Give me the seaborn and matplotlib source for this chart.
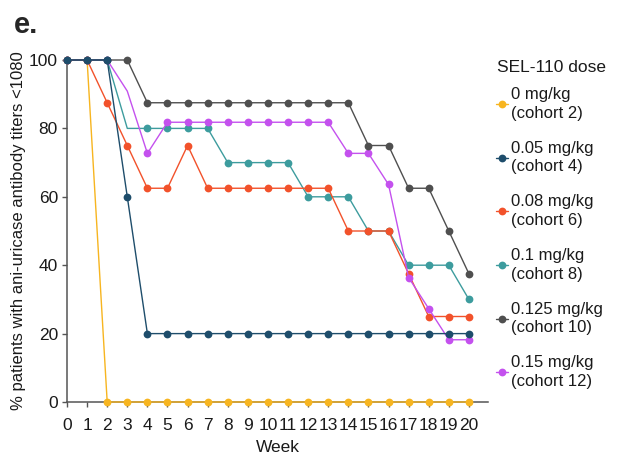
import numpy as np
import pandas as pd
import matplotlib
matplotlib.use("Agg")
import matplotlib.pyplot as plt
import seaborn as sns

weeks = list(range(0, 21))

dose_labels = ["0 mg/kg\n(cohort 2)", "0.05 mg/kg\n(cohort 4)", "0.08 mg/kg\n(cohort 6)",
               "0.1 mg/kg\n(cohort 8)", "0.125 mg/kg\n(cohort 10)", "0.15 mg/kg\n(cohort 12)"]
colors = ["#F7B520", "#1E4D6B", "#F2522B", "#3D9C9E", "#4F4F4F", "#C451EE"]

dose_0 = [100, 100] + [0] * 19
dose_005 = [100, 100, 100, 60] + [20] * 17
dose_008 = [100, 100, 87.5, 75, 62.5, 62.5, 75, 62.5, 62.5, 62.5, 62.5, 62.5, 62.5, 62.5,
            50, 50, 50, 37.5, 25, 25, 25]
dose_01 = [100, 100, 100, 80, 80, 80, 80, 80, 70, 70, 70, 70, 60, 60, 60,
           50, 50, 40, 40, 40, 30]
dose_0125 = [100, 100, 100, 100, 87.5, 87.5, 87.5, 87.5, 87.5, 87.5, 87.5, 87.5, 87.5, 87.5, 87.5,
             75, 75, 62.5, 62.5, 50, 37.5]
dose_015 = [100, 100, 100, 90.9, 72.7, 81.8, 81.8, 81.8, 81.8, 81.8, 81.8, 81.8, 81.8, 81.8,
            72.7, 72.7, 63.6, 36.4, 27.3, 18.2, 18.2]

series = [dose_0, dose_005, dose_008, dose_01, dose_0125, dose_015]
# weeks where no marker is shown
no_marker = [[], [], [], [3], [], [3]]
zorders = [3, 8, 5, 4, 7, 6]

sns.set_style("ticks")
plt.rcParams["font.family"] = ["Liberation Sans", "DejaVu Sans"]

fig = plt.figure(figsize=(6.19, 4.59), dpi=100)
ax = fig.add_axes([67 / 619, 1 - 402 / 459, 421 / 619, 342 / 459])

for vals, lab, col, skip, z in zip(series, dose_labels, colors, no_marker, zorders):
    df = pd.DataFrame({"Week": weeks, "pct": vals})
    keep = [i for i, w in enumerate(weeks) if w not in skip]
    sns.lineplot(data=df, x="Week", y="pct", color=col, marker="o", markersize=5.6,
                 markeredgewidth=0, linewidth=1.0, markevery=keep, label=lab, ax=ax,
                 zorder=z, clip_on=False)

ax.set_xlim(0, 20.95)
ax.set_ylim(0, 100)
ax.set_xticks(weeks)
ax.set_yticks([0, 20, 40, 60, 80, 100])
ax.tick_params(axis="both", labelsize=12.5, length=3.5, width=1, color="#555555",
               labelcolor="#1a1a1a")
ax.tick_params(axis="x", pad=8)
ax.tick_params(axis="y", pad=3)
for s in ["left", "bottom"]:
    ax.spines[s].set_color("#555555")
    ax.spines[s].set_linewidth(1.1)
sns.despine(ax=ax)

ax.set_xlabel("Week", fontsize=12.5, labelpad=5, color="#1a1a1a")
ax.set_ylabel("% patients with ani-uricase antibody titers <1080", fontsize=12,
              labelpad=2, color="#1a1a1a")

# legend title placed as its own text so the gap to the first entry stays tight
fig.text(497 / 619, 1 - 68 / 459, "SEL-110 dose", fontsize=12.5, va="center",
         color="#1a1a1a")
leg = ax.legend(loc="upper left",
                bbox_to_anchor=(491.5 / 619, 1 - 83 / 459), bbox_transform=fig.transFigure,
                borderaxespad=0, borderpad=0.25, frameon=False, fontsize=12,
                handlelength=0.75, handletextpad=0.15, labelspacing=1.2)
for t in leg.get_texts():
    t.set_linespacing(1.3)
    t.set_color("#1a1a1a")

fig.text(14 / 619, 1 - 33 / 459, "e.", fontsize=21, fontweight="bold", va="baseline")

fig.savefig("out.png", dpi=100)
